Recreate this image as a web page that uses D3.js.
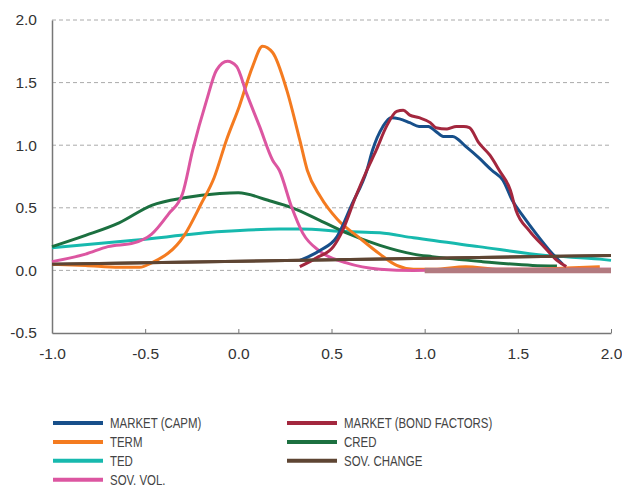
<!DOCTYPE html>
<html>
<head>
<meta charset="utf-8">
<script src="https://cdn.jsdelivr.net/npm/d3@7"></script>
<style>
  body { margin: 0; background: #fff; }
  svg { display: block; }
</style>
</head>
<body>
<svg id="chart" width="622" height="485"></svg>
<script>
// series values: [x, density]
const marketCapm = [[0.33,0.08],[0.44,0.16],[0.53,0.27],[0.61,0.53],[0.69,0.8],[0.72,0.96],[0.776,1.15],[0.82,1.22],[0.865,1.21],[0.92,1.18],[0.97,1.15],[1.02,1.15],[1.06,1.11],[1.1,1.07],[1.15,1.07],[1.22,0.99],[1.29,0.9],[1.36,0.8],[1.42,0.72],[1.47,0.56],[1.53,0.43],[1.6,0.29],[1.67,0.16],[1.74,0.05]];
const marketBond = [[0.33,0.03],[0.42,0.1],[0.51,0.19],[0.56,0.32],[0.63,0.59],[0.69,0.8],[0.74,0.96],[0.795,1.15],[0.85,1.27],[0.885,1.28],[0.92,1.24],[0.97,1.22],[1.03,1.18],[1.06,1.14],[1.12,1.13],[1.17,1.15],[1.21,1.15],[1.24,1.14],[1.29,1.02],[1.35,0.92],[1.4,0.8],[1.46,0.64],[1.49,0.48],[1.56,0.32],[1.64,0.19],[1.71,0.08],[1.76,0.03]];
const term = [[-1.0,0.05],[-0.82,0.04],[-0.64,0.025],[-0.53,0.025],[-0.465,0.06],[-0.29,0.28],[-0.2,0.53],[-0.13,0.74],[-0.064,1.04],[0.005,1.31],[0.077,1.63],[0.13,1.79],[0.184,1.74],[0.26,1.44],[0.33,1.04],[0.37,0.8],[0.44,0.59],[0.53,0.41],[0.65,0.26],[0.76,0.13],[0.85,0.04],[0.94,0.01],[1.05,0.01],[1.22,0.03],[1.4,0.01],[1.6,0.01],[1.76,0.02],[1.94,0.03]];
const cred = [[-1.0,0.19],[-0.82,0.28],[-0.64,0.38],[-0.465,0.52],[-0.29,0.58],[-0.1,0.614],[0.0,0.62],[0.16,0.56],[0.29,0.5],[0.437,0.4],[0.58,0.3],[0.76,0.2],[0.94,0.13],[1.04,0.11],[1.31,0.07],[1.58,0.04],[1.71,0.035]];
const ted = [[-1.0,0.18],[-0.56,0.24],[-0.09,0.31],[0.22,0.33],[0.33,0.33],[0.58,0.31],[0.76,0.3],[0.94,0.26],[1.29,0.19],[1.65,0.12],[1.94,0.09],[2.0,0.08]];
const sovVol = [[-1.0,0.07],[-0.82,0.13],[-0.7,0.19],[-0.56,0.22],[-0.465,0.29],[-0.375,0.45],[-0.3,0.61],[-0.245,0.96],[-0.17,1.36],[-0.117,1.6],[-0.058,1.67],[-0.01,1.63],[0.045,1.41],[0.114,1.15],[0.184,0.88],[0.22,0.8],[0.285,0.51],[0.345,0.3],[0.44,0.15],[0.58,0.06],[0.76,0.01],[0.94,0.0],[1.3,0.01],[1.7,0.01],[2.0,0.01]];
const sovChange = [[-1.0,0.05],[2.0,0.12]];
const zeroBand = [[1.0,0.0],[2.0,0.0]];

const seriesNames = ["MARKET (CAPM)", "MARKET (BOND FACTORS)", "TERM", "CRED", "TED", "SOV. CHANGE", "SOV. VOL."];
const seriesColors = ["#174f8a", "#a3273e", "#f47b20", "#1c7040", "#17b9ae", "#5e4533", "#dc56a1"];
const xTicks = [-1.0, -0.5, 0.0, 0.5, 1.0, 1.5, 2.0];
const yTicks = [-0.5, 0.0, 0.5, 1.0, 1.5, 2.0];

const svg = d3.select("#chart");
const margin = { top: 20, right: 11, bottom: 152, left: 52 };
const width = 622, height = 485;
const innerWidth = width - margin.left - margin.right;
const innerHeight = height - margin.top - margin.bottom;

const x = d3.scaleLinear().domain([-1, 2]).range([0, innerWidth]);
const y = d3.scaleLinear().domain([-0.5, 2]).range([innerHeight, 0]);

const fmt = d => d.toFixed(1);   // plain hyphen for negatives, like the original
const g = svg.append("g").attr("transform", `translate(${margin.left},${margin.top})`);
const font = "'Liberation Sans', Arial, sans-serif";

// dashed gridlines
g.append("g")
    .selectAll("line")
    .data(yTicks.filter(d => d >= 0))
    .enter().append("line")
    .attr("x1", 0).attr("x2", innerWidth)
    .attr("y1", d => y(d)).attr("y2", d => y(d))
    .attr("stroke", "#aaa")
    .attr("stroke-width", 1)
    .attr("stroke-dasharray", "4,3");

// y axis
g.append("g")
    .call(d3.axisLeft(y).tickValues(yTicks).tickFormat(fmt).tickSize(0).tickPadding(15))
    .call(a => a.select(".domain").attr("stroke", "#777").attr("stroke-width", 1.5))
    .call(a => a.selectAll("text").attr("font-family", font).attr("font-size", "15.5px").attr("fill", "#333"));

// x axis, ticks pointing up
g.append("g")
    .attr("transform", `translate(0,${innerHeight})`)
    .call(d3.axisBottom(x).tickValues(xTicks).tickFormat(fmt).tickSizeInner(-4).tickSizeOuter(0).tickPadding(15))
    .call(a => a.select(".domain").attr("stroke", "#777").attr("stroke-width", 1.5))
    .call(a => a.selectAll(".tick line").attr("stroke", "#777"))
    .call(a => a.selectAll("text").attr("font-family", font).attr("font-size", "15.5px").attr("fill", "#333"));

const line = d3.line()
    .x(d => x(d[0]))
    .y(d => y(d[1]))
    .curve(d3.curveMonotoneX);

const drawOrder = [
    { data: sovChange, color: seriesColors[5] },
    { data: ted, color: seriesColors[4] },
    { data: cred, color: seriesColors[3] },
    { data: term, color: seriesColors[2] },
    { data: sovVol, color: seriesColors[6] },
    { data: marketCapm, color: seriesColors[0] },
    { data: marketBond, color: seriesColors[1] }
];

g.selectAll("path.series")
    .data(drawOrder)
    .enter().append("path")
    .attr("class", "series")
    .attr("d", d => line(d.data))
    .attr("fill", "none")
    .attr("stroke", d => d.color)
    .attr("stroke-width", 3)
    .attr("stroke-linejoin", "round");

g.append("path")
    .attr("d", d3.line().x(d => x(d[0])).y(d => y(d[1]))(zeroBand))
    .attr("stroke", "#b27a80")
    .attr("stroke-width", 5.5)
    .attr("fill", "none");

// sov change on top of the band
g.append("path")
    .attr("d", line(sovChange))
    .attr("fill", "none")
    .attr("stroke", seriesColors[5])
    .attr("stroke-width", 3);

// legend: two columns
const legendItems = [
    { name: seriesNames[0], color: seriesColors[0], col: 0, row: 0 },
    { name: seriesNames[2], color: seriesColors[2], col: 0, row: 1 },
    { name: seriesNames[4], color: seriesColors[4], col: 0, row: 2 },
    { name: seriesNames[6], color: seriesColors[6], col: 0, row: 3 },
    { name: seriesNames[1], color: seriesColors[1], col: 1, row: 0 },
    { name: seriesNames[3], color: seriesColors[3], col: 1, row: 1 },
    { name: seriesNames[5], color: seriesColors[5], col: 1, row: 2 }
];

const legend = svg.append("g").attr("transform", "translate(53,423)");
const item = legend.selectAll("g")
    .data(legendItems)
    .enter().append("g")
    .attr("transform", d => `translate(${d.col * 234},${d.row * 18.9})`);

item.append("line")
    .attr("x1", 0).attr("x2", 50)
    .attr("stroke", d => d.color)
    .attr("stroke-width", 4);

// no narrow face installed, so squeeze Liberation Sans horizontally
item.append("text")
    .attr("transform", "translate(57,5) scale(0.79,1)")
    .attr("font-family", font)
    .attr("font-size", "14.5px")
    .attr("fill", "#444")
    .text(d => d.name);
</script>
</body>
</html>
